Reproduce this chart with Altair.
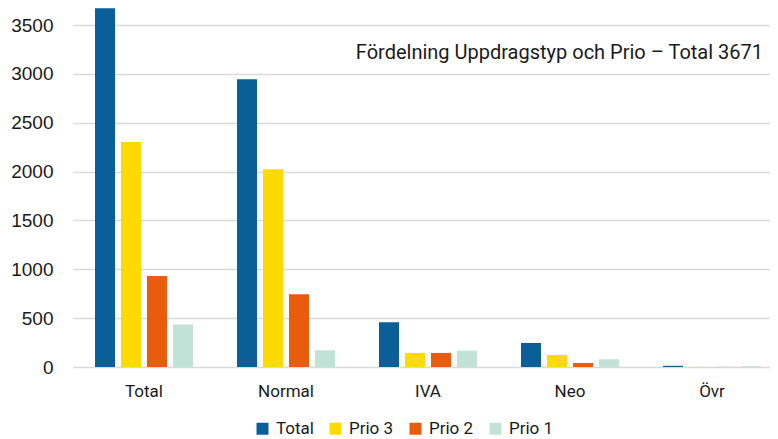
import altair as alt
import pandas as pd

categories = ["Total", "Normal", "IVA", "Neo", "Övr"]
series = ["Total", "Prio 3", "Prio 2", "Prio 1"]
total_vals = [3671, 2945, 459, 246, 12]
prio3_vals = [2303, 2023, 144, 123, 1]
prio2_vals = [931, 744, 144, 41, 1]
prio1_vals = [435, 171, 167, 79, 8]
colors = ["#0A5F99", "#FFDA00", "#E95C0E", "#C0E2D7"]
y_ticks = [0, 500, 1000, 1500, 2000, 2500, 3000, 3500]
title_text = "Fördelning Uppdragstyp och Prio – Total 3671"

rows = []
for name, vals in zip(series, [total_vals, prio3_vals, prio2_vals, prio1_vals]):
    for c, v in zip(categories, vals):
        rows.append({"kategori": c, "serie": name, "antal": v})
df = pd.DataFrame(rows)

bars = alt.Chart(df).mark_bar().encode(
    x=alt.X("kategori:N", sort=categories, title=None,
            scale=alt.Scale(range=[0, 710], paddingInner=0.31, paddingOuter=0.155),
            axis=alt.Axis(labelAngle=0, ticks=False, tickSize=0, domain=False,
                          labelFont="Roboto", labelFontSize=17, labelColor="#1a1a1a",
                          labelPadding=16)),
    xOffset=alt.XOffset("serie:N", sort=series,
                        scale=alt.Scale(paddingInner=0.23, paddingOuter=0)),
    y=alt.Y("antal:Q", title=None,
            scale=alt.Scale(domain=[0, 3674], nice=False),
            axis=alt.Axis(values=y_ticks, format="d", ticks=False, domain=False,
                          labelFont="Liberation Sans", labelFontSize=19,
                          labelColor="#1a1a1a", labelPadding=20,
                          gridColor="#D9D9D9", gridWidth=1.3)),
    color=alt.Color("serie:N", sort=series,
                    scale=alt.Scale(domain=series, range=colors),
                    legend=alt.Legend(title=None, orient="none", direction="horizontal",
                                      legendX=181, legendY=412, symbolType="square",
                                      symbolSize=144, symbolStrokeWidth=0,
                                      labelFont="Roboto", labelFontSize=17,
                                      labelColor="#1a1a1a", labelOffset=5,
                                      columnPadding=13, padding=0)),
)

title = alt.Chart(pd.DataFrame({"t": [title_text]})).mark_text(
    align="right", baseline="alphabetic", font="Roboto", fontSize=20, color="#1a1a1a"
).encode(text="t:N", x=alt.value(690), y=alt.value(51))

chart = alt.layer(bars, title).properties(
    width=697, height=359,
    autosize=alt.AutoSizeParams(type="none"),
    padding={"left": 65, "top": 0, "right": 0, "bottom": 72},
).configure_view(stroke=None)

chart.save("out.html", embed_options={"renderer": "svg", "actions": False})
